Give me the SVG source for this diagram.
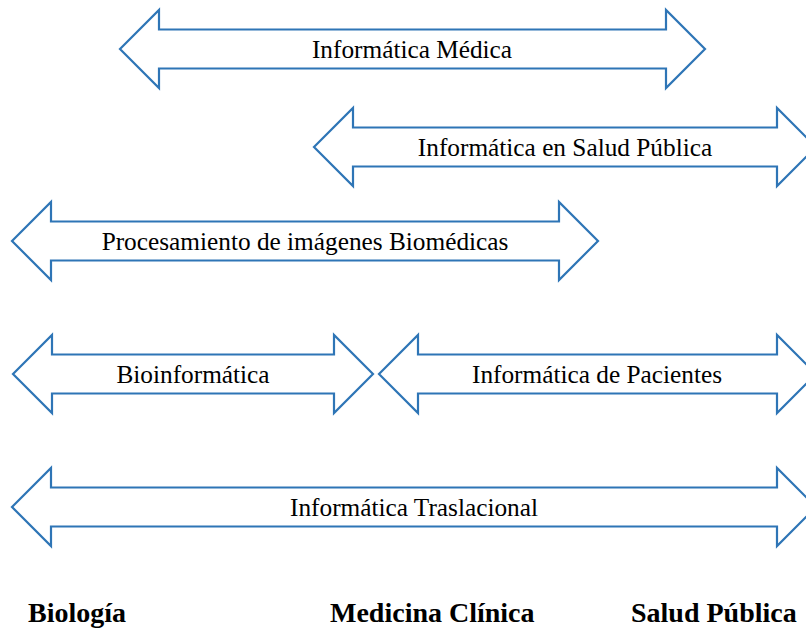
<svg xmlns="http://www.w3.org/2000/svg" width="806" height="631" viewBox="0 0 806 631">
<style>
.arr{fill:#fff;stroke:#2E75B6;stroke-width:2.2;stroke-linejoin:miter}
.lbl{font-family:"Liberation Serif","Times New Roman",serif;font-size:25.3px;fill:#000;text-anchor:middle}
.ax{font-family:"Liberation Serif","Times New Roman",serif;font-size:28px;font-weight:bold;fill:#000}
</style>
<rect width="806" height="631" fill="#fff"/>
<g id="n1">
<path class="arr" d="M120,49 L159,10 L159,29.5 L666,29.5 L666,10 L705,49 L666,88 L666,68.5 L159,68.5 L159,88 Z"/>
<text class="lbl" x="412" y="57.5">Informática Médica</text>
</g>
<g id="n2">
<path class="arr" d="M314,147 L353,108 L353,127.5 L777,127.5 L777,108 L816,147 L777,186 L777,166.5 L353,166.5 L353,186 Z"/>
<text class="lbl" x="565" y="156">Informática en Salud Pública</text>
</g>
<g id="n3">
<path class="arr" d="M12,241 L51,202 L51,221.5 L559,221.5 L559,202 L598,241 L559,280 L559,260.5 L51,260.5 L51,280 Z"/>
<text class="lbl" x="305" y="249.5">Procesamiento de imágenes Biomédicas</text>
</g>
<g id="n4">
<path class="arr" d="M13,374 L52,335 L52,354.5 L334,354.5 L334,335 L373,374 L334,413 L334,393.5 L52,393.5 L52,413 Z"/>
<text class="lbl" x="193" y="383">Bioinformática</text>
</g>
<g id="n5">
<path class="arr" d="M379,374 L418,335 L418,354.5 L777,354.5 L777,335 L816,374 L777,413 L777,393.5 L418,393.5 L418,413 Z"/>
<text class="lbl" x="597" y="383">Informática de Pacientes</text>
</g>
<g id="n6">
<path class="arr" d="M12,507 L51,468 L51,487.5 L777,487.5 L777,468 L816,507 L777,546 L777,526.5 L51,526.5 L51,546 Z"/>
<text class="lbl" x="414" y="516">Informática Traslacional</text>
</g>
<g id="axis">
<text class="ax" x="28" y="622">Biología</text>
<text class="ax" x="330" y="622">Medicina Clínica</text>
<text class="ax" x="631" y="622">Salud Pública</text>
</g>
<g id="connectors"></g>
</svg>
